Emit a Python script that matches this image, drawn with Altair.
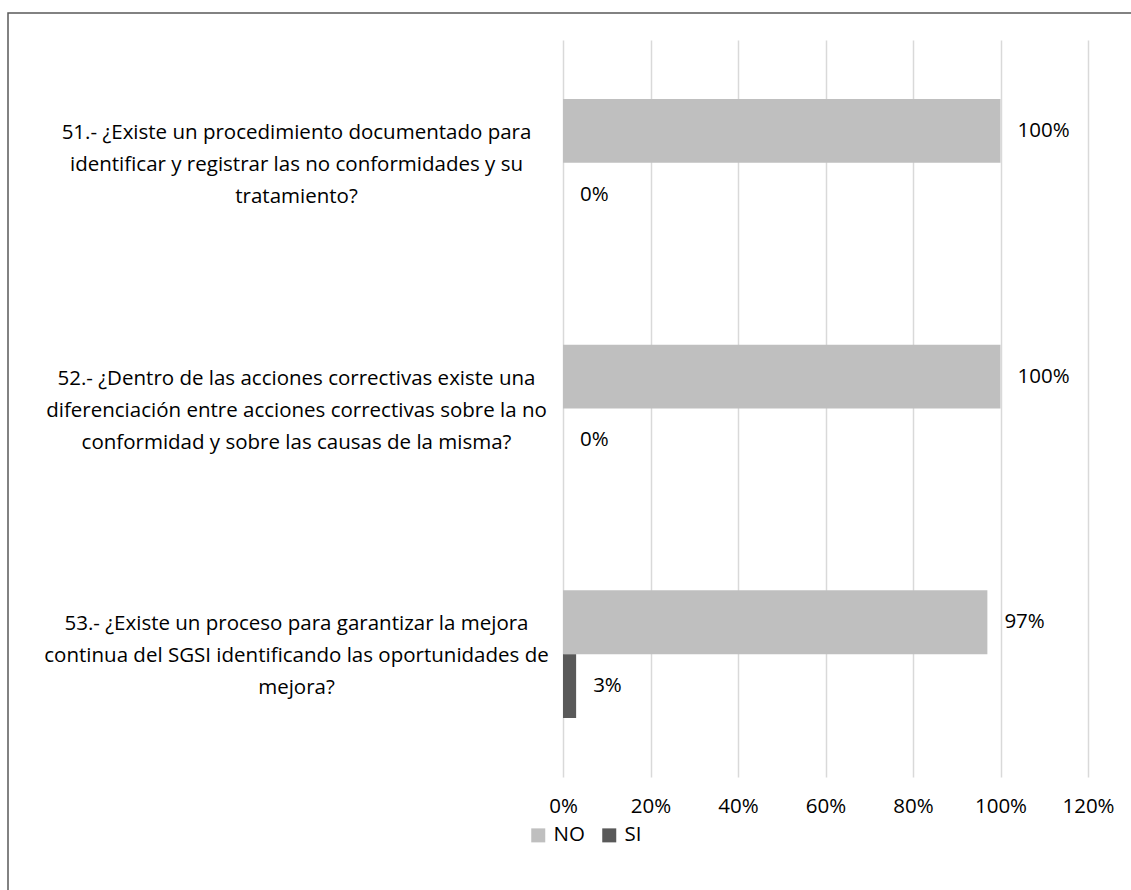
import altair as alt
import pandas as pd

questions = [
    "51.- ¿Existe un procedimiento documentado para|identificar y registrar las no conformidades y su|tratamiento?",
    "52.- ¿Dentro de las acciones correctivas existe una|diferenciación entre acciones correctivas sobre la no|conformidad y sobre las causas de la misma?",
    "53.- ¿Existe un proceso para garantizar la mejora|continua del SGSI identificando las oportunidades de|mejora?",
]
series = ["NO", "SI"]
no_values = [1.00, 1.00, 0.97]
si_values = [0.00, 0.00, 0.03]
colors = ["#bfbfbf", "#595959"]
x_ticks = [0, 0.2, 0.4, 0.6, 0.8, 1.0, 1.2]

rows = []
for q, n, s in zip(questions, no_values, si_values):
    rows.append({"pregunta": q, "serie": "NO", "valor": n})
    rows.append({"pregunta": q, "serie": "SI", "valor": s})
df = pd.DataFrame(rows)

FONT = "Open Sans"
FS = 20.5
W, H = 525, 737
PL, PT = 563, 40

y_enc = alt.Y(
    "pregunta:N",
    sort=questions,
    title=None,
    scale=alt.Scale(paddingInner=0.48, paddingOuter=0.24),
    axis=alt.Axis(
        labelExpr="split(datum.label, '|')",
        labelAlign="center",
        labelBaseline="middle",
        labelPadding=267,
        labelLineHeight=32,
        labelOffset=-30,
        labelLimit=600,
        ticks=False,
        domain=False,
        labelFontSize=FS,
        labelFont=FONT,
        labelColor="#000000",
    ),
)
x_enc = alt.X(
    "valor:Q",
    title=None,
    scale=alt.Scale(domain=[0, 1.2], nice=False),
    axis=alt.Axis(
        values=x_ticks,
        format=".0%",
        grid=True,
        gridColor="#d9d9d9",
        gridWidth=1.5,
        ticks=False,
        domain=False,
        labelFlush=False,
        labelPadding=19,
        labelFontSize=FS,
        labelFont=FONT,
        labelColor="#000000",
    ),
)
yoff = alt.YOffset("serie:N", sort=series)

bars = alt.Chart(df).mark_bar().encode(
    x=x_enc,
    y=y_enc,
    yOffset=yoff,
    color=alt.Color(
        "serie:N",
        sort=series,
        scale=alt.Scale(domain=series, range=colors),
        legend=alt.Legend(
            title=None,
            orient="none",
            direction="horizontal",
            legendX=-35,
            legendY=785,
            symbolType="square",
            symbolSize=196,
            symbolStrokeWidth=0,
            labelFontSize=FS,
            labelFont=FONT,
            labelColor="#000000",
            columnPadding=14,
            labelOffset=5,
        ),
    ),
)

labels = alt.Chart(df).mark_text(
    align="left", baseline="middle", dx=17, font=FONT, fontSize=FS, color="#000000"
).encode(
    x="valor:Q",
    y=alt.Y("pregunta:N", sort=questions),
    yOffset=yoff,
    text=alt.Text("valor:Q", format=".0%"),
)

border = alt.Chart(pd.DataFrame({"k": [0]})).mark_rect(
    fill=None, stroke="#595959", strokeWidth=1.5
).encode(
    x=alt.value(8 - PL),
    x2=alt.value(1136 - PL),
    y=alt.value(13 - PT),
    y2=alt.value(896 - PT),
)

chart = (
    alt.layer(bars, labels, border)
    .properties(
        width=W,
        height=H,
        autosize=alt.AutoSizeParams(type="none"),
        padding={"left": PL, "top": PT, "right": 1131 - PL - W, "bottom": 890 - PT - H},
        background="white",
    )
    .configure_view(stroke=None)
)

chart.save("out.html", embed_options={"renderer": "svg", "actions": False})
